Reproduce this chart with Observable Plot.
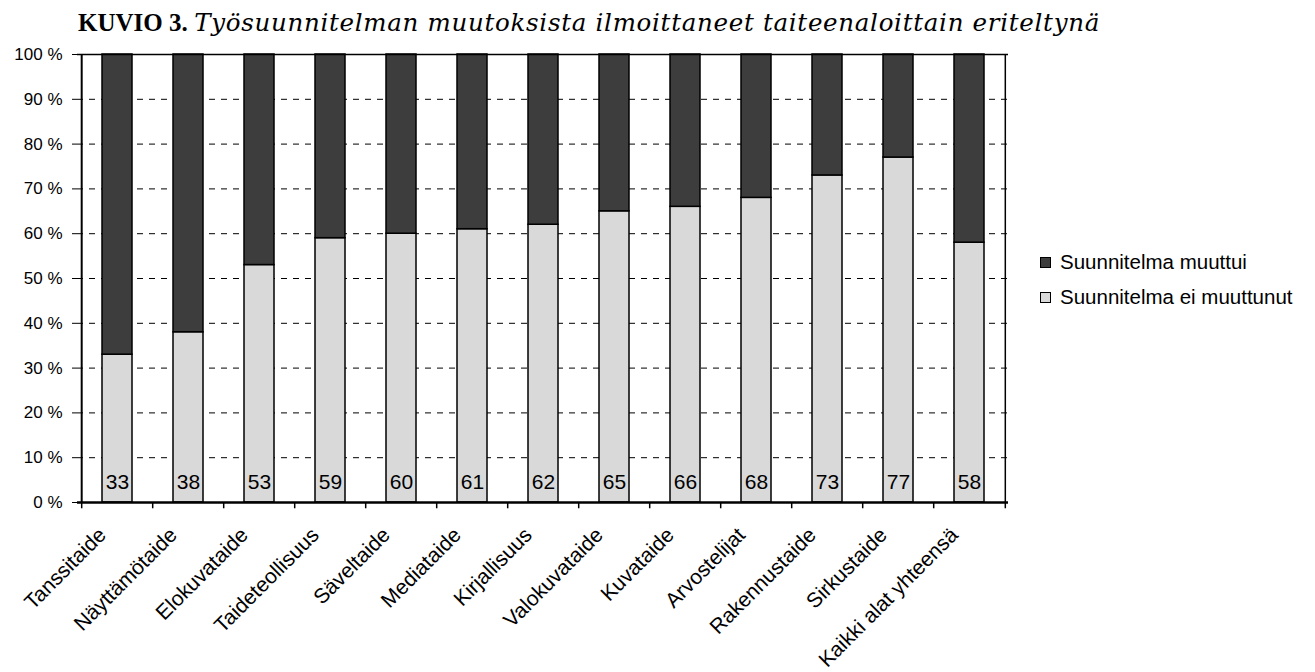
<!DOCTYPE html>
<html>
<head>
<meta charset="utf-8">
<script src="https://cdn.jsdelivr.net/npm/d3@7"></script>
<script src="https://cdn.jsdelivr.net/npm/@observablehq/plot@0.6"></script>
<style>
  body { margin: 0; background: #fff; width: 1315px; height: 672px; overflow: hidden; position: relative; }
  #title { position: absolute; left: 78px; top: 10px; font-family: "Liberation Serif", "Times New Roman", serif; font-size: 26px; line-height: 26px; color: #000; white-space: nowrap; }
  #title b { font-weight: bold; font-size: 25px; }
  #title i { font-style: italic; font-family: "DejaVu Serif", serif; font-size: 24.5px; }
  #chart { position: absolute; left: 0; top: 45px; }
  #legend { position: absolute; left: 1040px; top: 250px; font-family: "Liberation Sans", Arial, sans-serif; font-size: 20.5px; color: #000; }
  .item { display: flex; align-items: center; height: 24px; margin-bottom: 11px; }
  .sw { width: 9px; height: 9px; border: 1px solid #000; margin-right: 9px; }
</style>
</head>
<body>
<div id="title"><b>KUVIO 3.</b> <i id="tit">Työsuunnitelman muutoksista ilmoittaneet taiteenaloittain eriteltynä</i></div>
<div id="chart"></div>
<div id="legend"></div>
<script>
const categories = ["Tanssitaide", "Näyttämötaide", "Elokuvataide", "Taideteollisuus", "Säveltaide", "Mediataide", "Kirjallisuus", "Valokuvataide", "Kuvataide", "Arvostelijat", "Rakennustaide", "Sirkustaide", "Kaikki alat yhteensä"];
const unchanged = [33, 38, 53, 59, 60, 61, 62, 65, 66, 68, 73, 77, 58];
const changed = [67, 62, 47, 41, 40, 39, 38, 35, 34, 32, 27, 23, 42];
const seriesNames = ["Suunnitelma muuttui", "Suunnitelma ei muuttunut"];
const seriesColors = ["#3d3d3d", "#d9d9d9"];
const yTicks = [0, 10, 20, 30, 40, 50, 60, 70, 80, 90, 100];

const rows = [];
categories.forEach((c, i) => {
  rows.push({cat: c, series: seriesNames[1], value: unchanged[i]});
  rows.push({cat: c, series: seriesNames[0], value: changed[i]});
});
const labelRows = categories.map((c, i) => ({cat: c, value: unchanged[i]}));

const W = 1315, H = 627;
const mL = 77, mR = 307, mT = 9, mB = 170;
const step = (W - mL - mR) / categories.length;

const plot = Plot.plot({
  width: W, height: H,
  marginLeft: mL, marginRight: mR, marginTop: mT, marginBottom: mB,
  style: {fontFamily: "'Liberation Sans', Arial, sans-serif", background: "#fff", color: "#000"},
  x: {domain: categories, paddingInner: 0.58, paddingOuter: 0.29, axis: null},
  y: {domain: [0, 100], axis: null},
  color: {domain: seriesNames, range: seriesColors},
  marks: [
    Plot.ruleY(yTicks.filter(d => d > 0 && d < 100), {stroke: "#000", strokeWidth: 1, strokeDasharray: "6,6"}),
    Plot.barY(rows, {x: "cat", y: "value", fill: "series", stroke: "#000", strokeWidth: 1.5}),
    Plot.text(labelRows, {x: "cat", text: d => String(d.value), frameAnchor: "bottom", lineAnchor: "middle", dy: -20, fontSize: 21, fill: "#000"}),
    Plot.ruleY([100], {stroke: "#000", strokeWidth: 1.5}),
    Plot.ruleX([categories[categories.length - 1]], {y1: 0, y2: 100, dx: step / 2, stroke: "#000", strokeWidth: 1.5}),
    Plot.ruleX(categories, {y1: 0, y2: -1.4, dx: -step / 2, stroke: "#000", strokeWidth: 1.5}),
    Plot.ruleX([categories[categories.length - 1]], {y1: 0, y2: -1.4, dx: step / 2, stroke: "#000", strokeWidth: 1.5}),
    Plot.axisY({ticks: yTicks, tickSize: 5, tickPadding: 10, tickFormat: d => d + " %", fontSize: 17, label: null}),
    Plot.ruleX([categories[0]], {y1: 0, y2: 100, dx: -step / 2, stroke: "#000", strokeWidth: 2}),
    Plot.ruleY([0], {stroke: "#000", strokeWidth: 2.5}),
    Plot.axisX({tickSize: 0, tickRotate: -45, textAnchor: "end", fontSize: 21, dx: -15, dy: 29, tickPadding: 0, label: null})
  ]
});
document.getElementById("chart").appendChild(plot);

const legend = document.getElementById("legend");
seriesNames.forEach((n, i) => {
  const it = document.createElement("div");
  it.className = "item";
  const sw = document.createElement("div");
  sw.className = "sw";
  sw.style.background = seriesColors[i];
  const t = document.createElement("span");
  t.textContent = n;
  it.appendChild(sw); it.appendChild(t);
  legend.appendChild(it);
});

// fit italic title part to reference width
const tit = document.getElementById("tit");
const targetRight = 1100;
const r = tit.getBoundingClientRect();
const n = tit.textContent.length;
tit.style.letterSpacing = ((targetRight - r.right) / n) + "px";
</script>
</body>
</html>
